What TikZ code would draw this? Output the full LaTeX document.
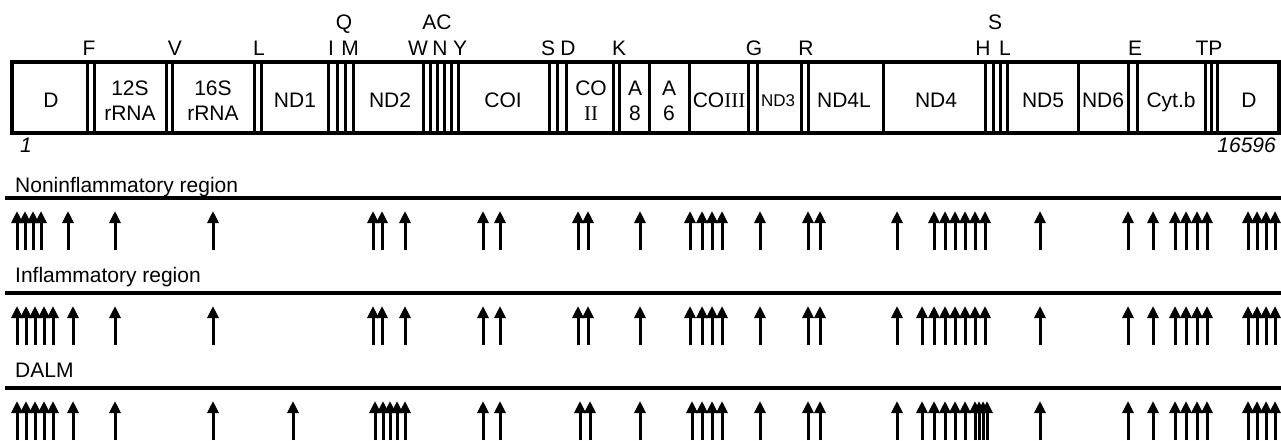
\documentclass[tikz,border=0pt]{standalone}
\usepackage{fontspec}
\setmainfont{Liberation Sans}
\newfontfamily\romfont{Liberation Serif}
\usetikzlibrary{arrows.meta}
\tikzset{
  lbl/.style={font=\fontsize{21}{25}\selectfont, inner sep=0pt, anchor=base},
  gene/.style={font=\fontsize{21}{25}\selectfont, inner sep=0pt, align=center},
  genebase/.style={font=\fontsize{21}{25}\selectfont, inner sep=0pt, anchor=base},
  region/.style={font=\fontsize{21}{25}\selectfont, inner sep=0pt, anchor=base west},
  barframe/.style={line width=4pt},
  divider/.style={line width=3pt},
  regline/.style={line width=4.5pt},
  mut/.style={line width=3pt, -{Triangle[width=11pt,length=12pt]}}
}
\begin{document}
\begin{tikzpicture}[x=1pt, y={(0pt,-1pt)}]
\useasboundingbox (0,0) rectangle (1281,440);
% gene bar
\draw[barframe] (12,62) rectangle (1279,133);
\foreach \x in {87,94,166,172,254,261,328,337,345,353,423,430,437,444,451,458,549,557,566,613,619,649,689,748,757,801,808,883,985,993,1000,1007,1078,1128,1137,1205,1211,1217}
  \draw[divider] (\x,62) -- (\x,133);
% gene labels
\node[genebase] (gD1) at (51,107.5) {D};
\node[gene] (g12S) at (130,100.5) {12S\\rRNA};
\node[gene] (g16S) at (213,100.5) {16S\\rRNA};
\node[genebase] (gND1) at (295,107.5) {ND1};
\node[genebase] (gND2) at (390,107.5) {ND2};
\node[genebase] (gCOI) at (503,107.5) {COI};
\node[gene] (gCOII) at (591,100.5) {CO\\{\romfont II}};
\node[gene] (gA8) at (635,100.5) {A\\8};
\node[gene] (gA6) at (669,100.5) {A\\6};
\node[genebase] (gCOIII) at (719,107.5) {CO{\romfont III}};
\node[font=\fontsize{17}{20}\selectfont, inner sep=0pt, anchor=base] (gND3) at (778,106) {ND3};
\node[genebase] (gND4L) at (844,107.5) {ND4L};
\node[genebase] (gND4) at (936,107.5) {ND4};
\node[genebase] (gND5) at (1043,107.5) {ND5};
\node[genebase] (gND6) at (1103,107.5) {ND6};
\node[genebase] (gCyt) at (1171,107.5) {Cyt.b};
\node[genebase] (gD2) at (1249,107.5) {D};
% tRNA labels, lower row
\node[lbl] (tF) at (89,55.5) {F};
\node[lbl] (tV) at (175,55.5) {V};
\node[lbl] (tL1) at (259,55.5) {L};
\node[lbl] (tI) at (331,55.5) {I};
\node[lbl] (tM) at (350,55.5) {M};
\node[lbl] (tW) at (418,55.5) {W};
\node[lbl] (tN) at (440,55.5) {N};
\node[lbl] (tY) at (460,55.5) {Y};
\node[lbl] (tS1) at (548,55.5) {S};
\node[lbl] (tD) at (568,55.5) {D};
\node[lbl] (tK) at (619,55.5) {K};
\node[lbl] (tG) at (754,55.5) {G};
\node[lbl] (tR) at (806,55.5) {R};
\node[lbl] (tH) at (983,55.5) {H};
\node[lbl] (tL2) at (1005,55.5) {L};
\node[lbl] (tE) at (1135,55.5) {E};
\node[lbl] (tTP) at (1209,55.5) {TP};
% tRNA labels, upper row
\node[lbl] (tQ) at (344,29.5) {Q};
\node[lbl] (tAC) at (437,29.5) {AC};
\node[lbl] (tS2) at (995,29.5) {S};
% scale ends
\node[font=\fontsize{21}{25}\selectfont\itshape, inner sep=0pt, anchor=base west] (n1) at (20,152.5) {1};
\node[font=\fontsize{21}{25}\selectfont\itshape, inner sep=0pt, anchor=base east] (n2) at (1276,152.5) {16596};
% regions
\node[region] (r1) at (15,192) {Noninflammatory region};
\node[region] (r2) at (15,282) {Inflammatory region};
\node[region] (r3) at (15,377) {DALM};
\draw[regline] (5,198) -- (1281,198);
\draw[regline] (5,293) -- (1281,293);
\draw[regline] (5,388) -- (1281,388);
% mutation arrows
\foreach \x in {17,25,33,41,68,115,213,373,382,405,483,500,578,588,640,690,702,712,722,760,808,820,897,934,945,955,965,975,985,1040,1128,1153,1175,1186,1197,1207,1248,1257,1266,1275}
  \draw[mut] (\x,250) -- (\x,211);
\foreach \x in {17,26,35,44,53,73,115,213,373,382,405,483,500,578,588,640,690,702,712,722,760,808,820,897,922,934,945,955,965,975,985,1040,1128,1153,1175,1186,1197,1207,1248,1257,1266,1275}
  \draw[mut] (\x,345) -- (\x,306);
\foreach \x in {17,26,35,44,53,73,115,213,293,375,383,390,397,405,483,500,580,590,640,692,702,712,722,760,808,820,897,922,934,945,955,965,975,979,983,987,1040,1128,1153,1175,1186,1197,1207,1248,1257,1266,1275}
  \draw[mut] (\x,440) -- (\x,401);
\end{tikzpicture}
\end{document}
